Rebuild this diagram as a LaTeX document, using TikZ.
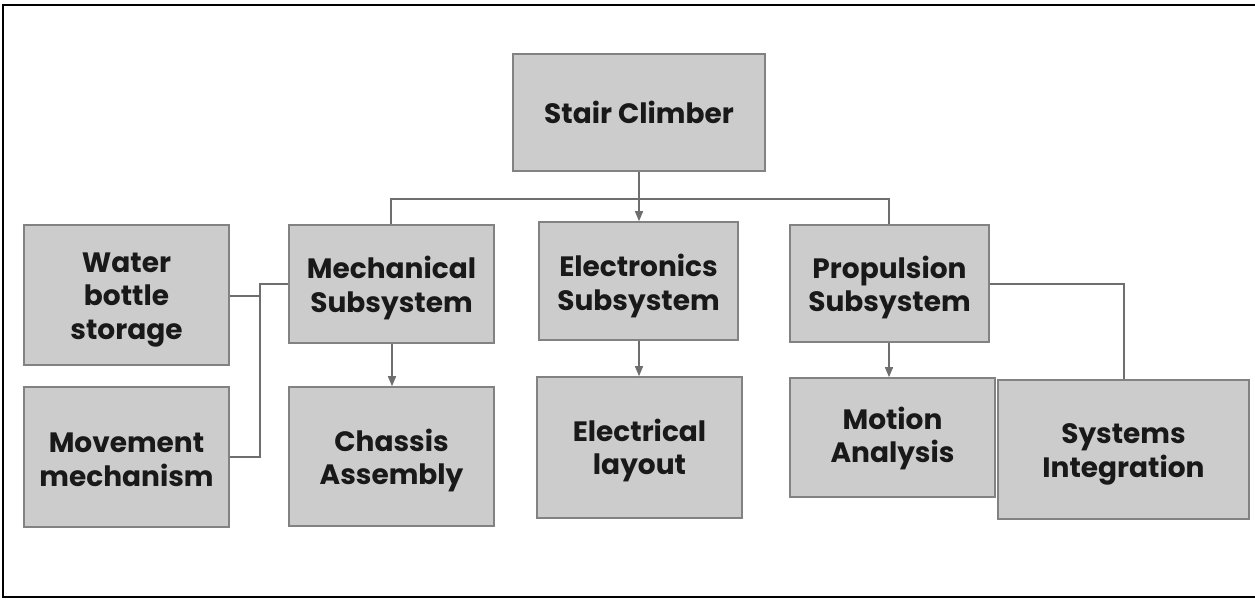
\documentclass[tikz,border=0pt]{standalone}
\usepackage{fontspec}
\setmainfont{Poppins}
\usetikzlibrary{arrows.meta}
\definecolor{boxfill}{HTML}{CCCCCC}
\definecolor{boxline}{HTML}{828282}
\definecolor{linkline}{HTML}{6E6E6E}
\tikzset{
  block/.style={draw=boxline, line width=1.6pt, fill=boxfill, inner sep=0pt},
  blocktext/.style={inner sep=0pt, align=center,
    font=\fontsize{28}{33.5}\selectfont\bfseries, text=black!90},
  link/.style={draw=linkline, line width=1.4pt},
  arrowlink/.style={link, -{Triangle[length=10pt,width=8pt]}}
}
% name, cx, cy, w, h, text offset, text
\newcommand{\blockat}[7]{%
  \node[block, minimum width=#4pt, minimum height=#5pt,
        label={[blocktext, yshift=-#6pt]center:{#7}}] (#1) at (#2,#3) {};}
\begin{document}
\begin{tikzpicture}[x=1pt, y=-1pt]
  \useasboundingbox (0,0) rectangle (1255,600);
  % outer frame (open on the right)
  \draw[black, line width=2pt] (1256,4.5) -- (3,4.5) -- (3,597) -- (1256,597);

  \blockat{top}{639}{112.5}{252}{117}{0}{Stair Climber}
  \blockat{water}{126.5}{295}{205}{140}{5}{Water\\bottle\\storage}
  \blockat{move}{126.5}{457}{205}{140}{3}{Movement\\mechanism}
  \blockat{mech}{391.5}{284}{205}{118}{4}{Mechanical\\Subsystem}
  \blockat{elec}{638.5}{281}{199}{118}{5}{Electronics\\Subsystem}
  \blockat{prop}{889.5}{283.5}{199}{117}{4}{Propulsion\\Subsystem}
  \blockat{chassis}{391.5}{456.5}{205}{139}{4}{Chassis\\Assembly}
  \blockat{layout}{639.5}{447.5}{205}{141}{3}{Electrical\\layout}
  \blockat{motion}{892.5}{437.5}{205}{119}{1}{Motion\\Analysis}
  \blockat{sysint}{1123.5}{449.5}{251}{139}{5}{Systems\\Integration}

  % top level branches
  \coordinate (bus) at (639,199);
  \draw[arrowlink] (top.south) -- (top.south |- elec.north);
  \draw[link] (mech.north -| 391,0) |- (bus) -| (prop.north -| 889,0);

  % mechanical side branches
  \coordinate (mjoin) at (260,284);
  \draw[link] (mech.west |- mjoin) -- (mjoin) |- (move.east |- 0,457);
  \draw[link] (water.east |- 0,296) -- (260,296);

  % downward links
  \draw[arrowlink] (mech.south -| 392,0) -- (chassis.north -| 392,0);
  \draw[arrowlink] (elec.south -| 639,0) -- (layout.north -| 639,0);
  \draw[arrowlink] (prop.south -| 889,0) -- (motion.north -| 889,0);

  % propulsion to systems integration
  \draw[link] (prop.east |- 0,284) -| (sysint.north -| 1124,0);
\end{tikzpicture}
\end{document}
